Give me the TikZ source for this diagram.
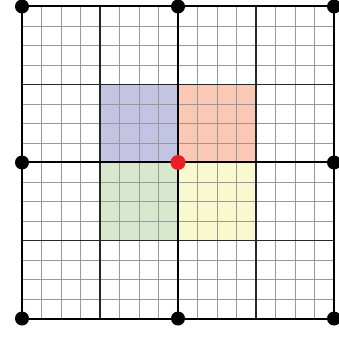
\documentclass[tikz,border=0pt]{standalone}
\usetikzlibrary{calc}
\definecolor{qblue}{RGB}{194,196,226}
\definecolor{qred}{RGB}{250,200,180}
\definecolor{qgreen}{RGB}{216,232,204}
\definecolor{qyellow}{RGB}{250,248,206}
\definecolor{qdot}{RGB}{235,30,35}
\tikzset{
  fineline/.style={draw=black!40, line width=0.5pt},
  midline/.style={draw=black!85, line width=1.1pt},
  thickline/.style={draw=black, line width=2pt},
  bigdot/.style={circle, fill=black, inner sep=0pt, minimum size=14pt},
  reddot/.style={circle, fill=qdot, inner sep=0pt, minimum size=15pt}
}
\begin{document}
\begin{tikzpicture}[x=19.5pt, y=19.5pt]
\path[use as bounding box] ($(0,0)+(-22pt,-18.5pt)$) rectangle ($(16,16)+(5pt,6.5pt)$);
% colored quadrants
\fill[qblue] (4,8) rectangle (8,12);
\fill[qred] (8,8) rectangle (12,12);
\fill[qgreen] (4,4) rectangle (8,8);
\fill[qyellow] (8,4) rectangle (12,8);
% fine grid
\foreach \i in {1,2,3,5,6,7,9,10,11,13,14,15} {
  \draw[fineline] (\i,0) -- (\i,16);
  \draw[fineline] (0,\i) -- (16,\i);
}
% medium grid
\foreach \i in {4,12} {
  \draw[midline] (\i,0) -- (\i,16);
  \draw[midline] (0,\i) -- (16,\i);
}
% thick grid
\foreach \i in {0,8,16} {
  \draw[thickline] (\i,0) -- (\i,16);
  \draw[thickline] (0,\i) -- (16,\i);
}
% dots
\node[bigdot] (d00) at (0,16) {};
\node[bigdot] (d10) at (8,16) {};
\node[bigdot] (d20) at (16,16) {};
\node[bigdot] (d01) at (0,8) {};
\node[bigdot] (d21) at (16,8) {};
\node[bigdot] (d02) at (0,0) {};
\node[bigdot] (d12) at (8,0) {};
\node[bigdot] (d22) at (16,0) {};
\node[reddot] (c) at (8,8) {};
\end{tikzpicture}
\end{document}
